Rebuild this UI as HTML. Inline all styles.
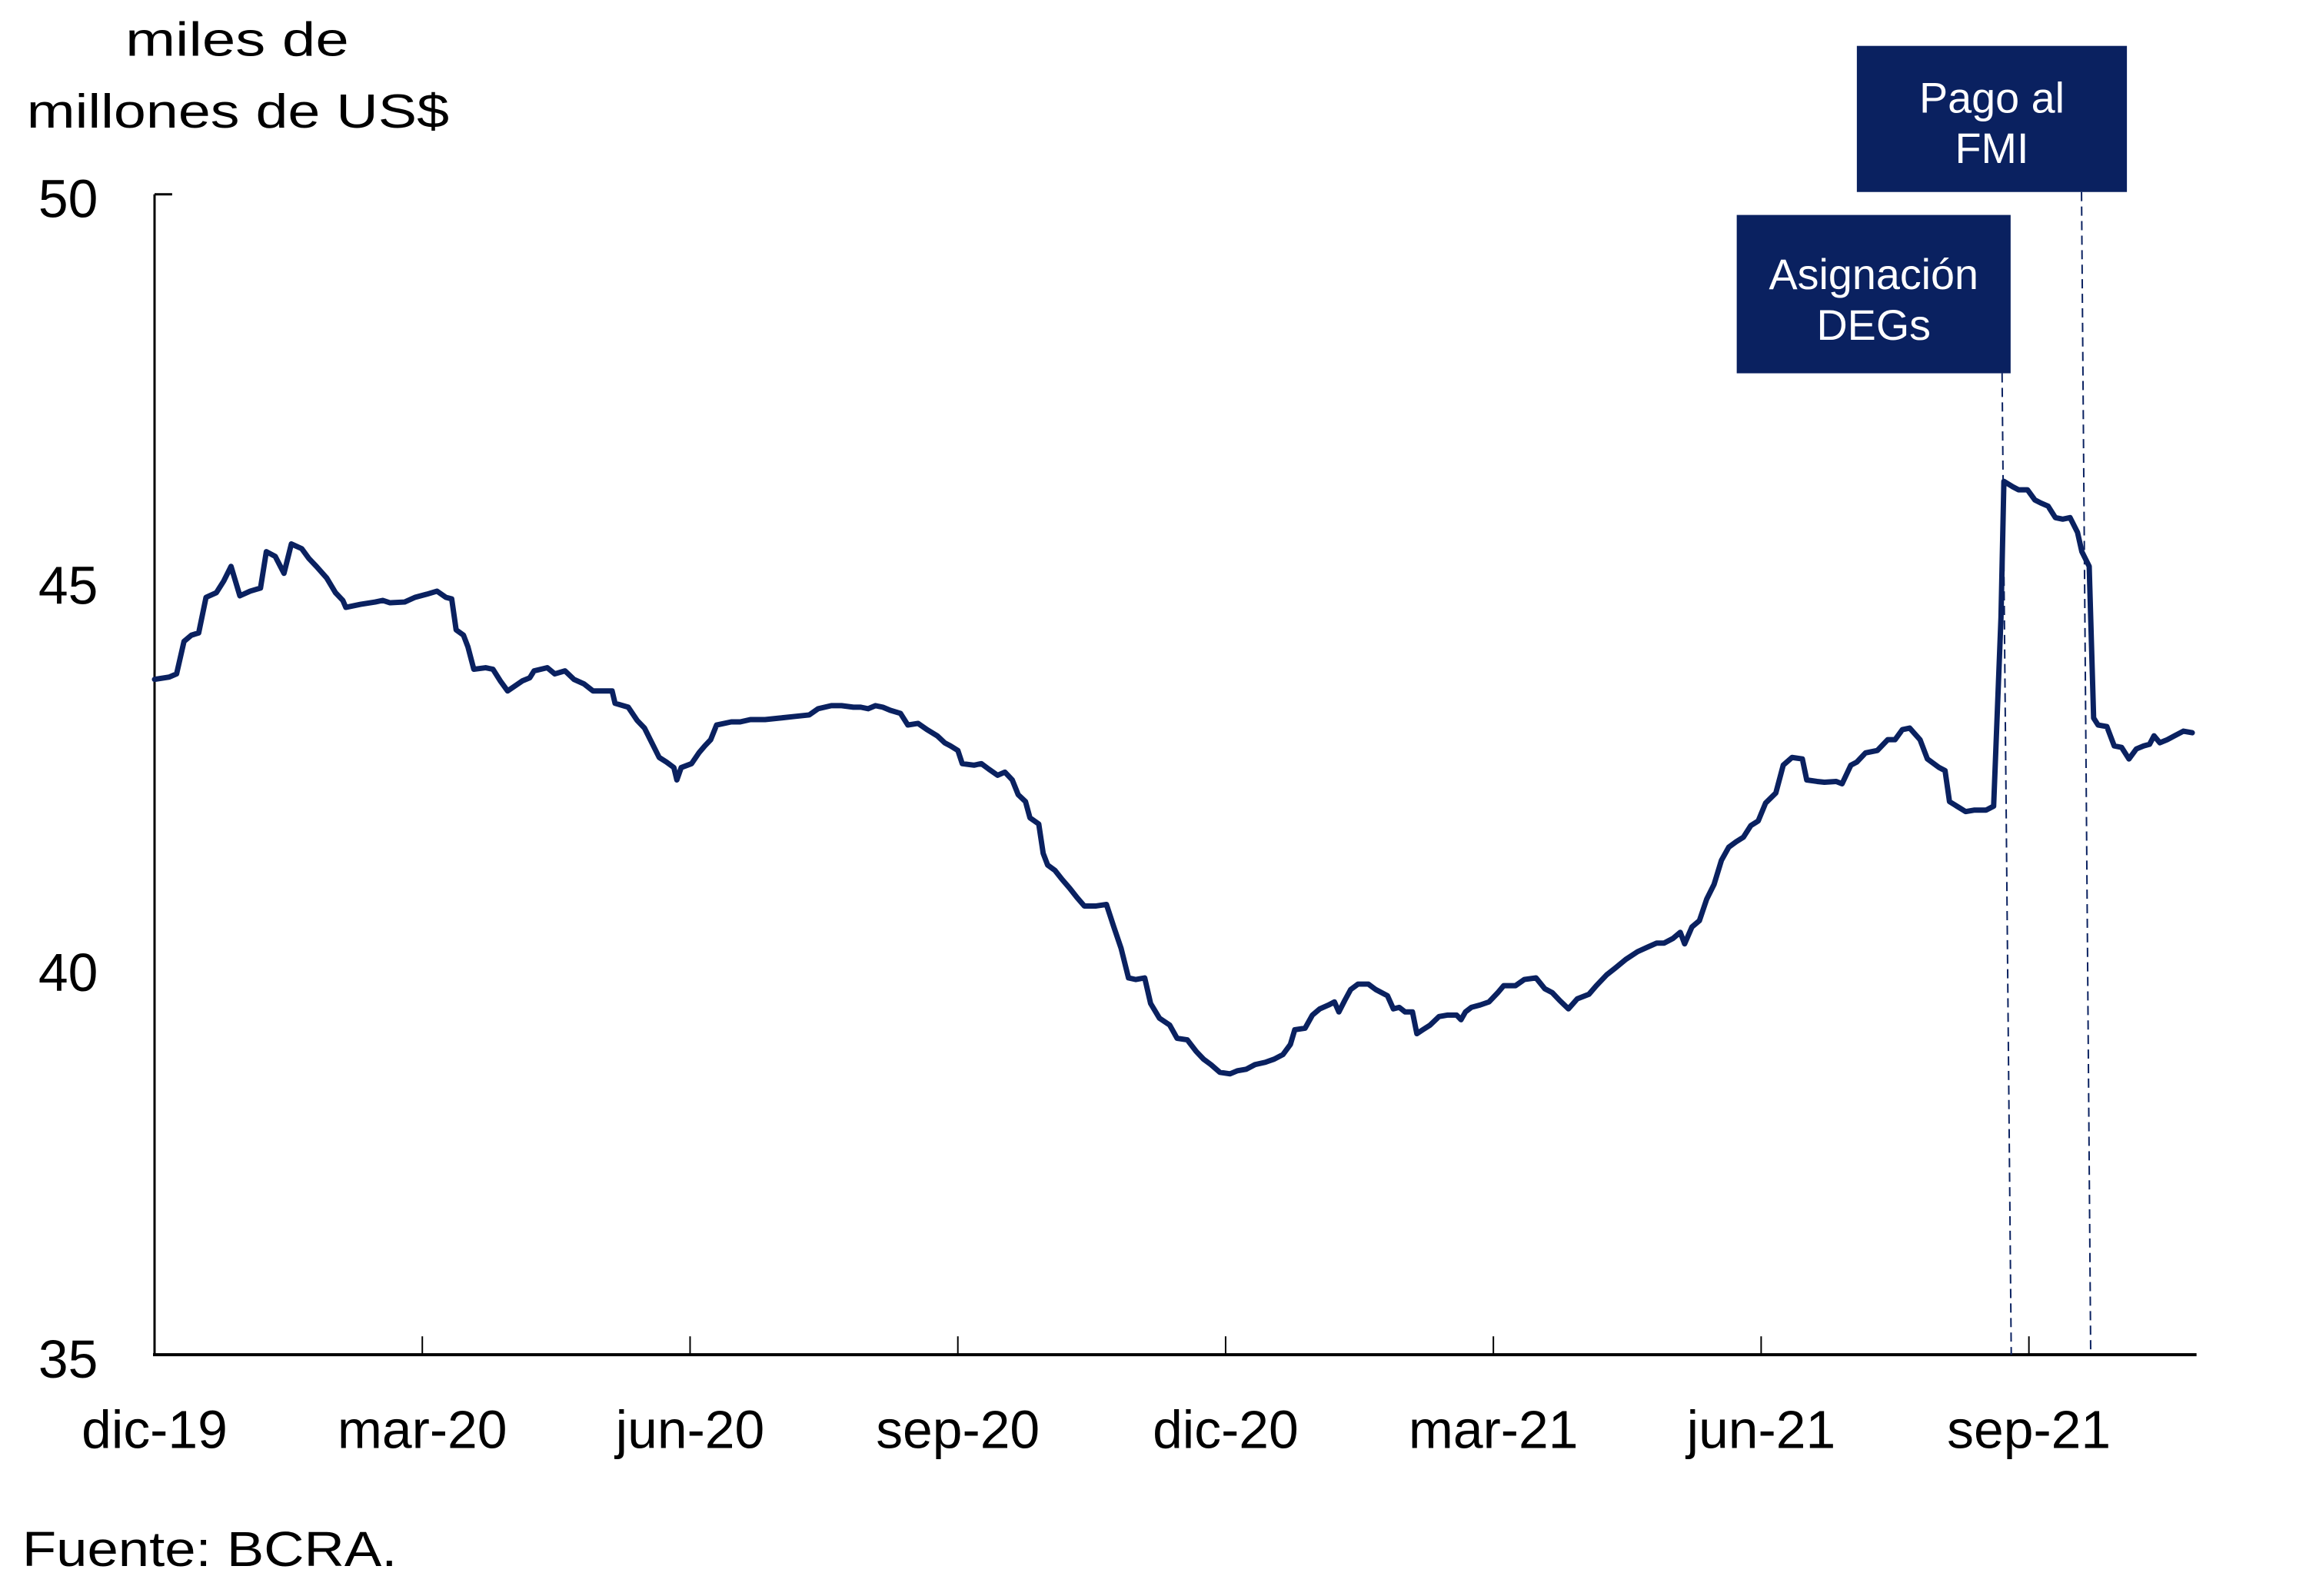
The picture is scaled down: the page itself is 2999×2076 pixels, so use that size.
<!DOCTYPE html>
<html><head><meta charset="utf-8"><style>
html,body{margin:0;padding:0;background:#fff;}
svg{display:block;font-family:"Liberation Sans",Arial,sans-serif;}
</style></head><body>
<svg id="chart" width="2999" height="2076" viewBox="0 0 2999 2076">
<g transform="scale(0.995)">
<g>
<text x="310" y="73" font-size="62" text-anchor="middle" textLength="292" lengthAdjust="spacingAndGlyphs">miles de</text>
<text x="35" y="167" font-size="62" textLength="552" lengthAdjust="spacingAndGlyphs">millones de US$</text>
</g>
<g id="axes"></g>
<g id="annot"></g>
<g id="series"></g>
<text x="29" y="2047" font-size="64" textLength="490" lengthAdjust="spacingAndGlyphs">Fuente: BCRA.</text>
</g>
</svg>
<script>
const days=[0,5,7.5,10,12.5,15,17.5,21,23.5,26,29,32.5,36,38,41,44,46.5,50,52.5,55,58.5,61.5,64,65,70,75,77.5,80,85,88.5,92.5,96,99,101,102.5,105,106.5,108.5,112.5,115,117.5,120,125,127.5,129,133.5,136,139.5,142.5,146,149,152.5,155.5,156.5,161,164,166.5,169,171.5,174,176.5,177.5,179,182.5,185,187,189,191,196,199,202.5,207.5,212.5,217.5,222.5,225.5,230,233.5,237.5,240,242.5,245,247.5,250,253.5,256,259.5,262.5,266,268.5,270.5,273,274.5,278.5,281,283.5,286.5,289,291.5,293.5,296,297.5,300.5,302,303.5,306,308.5,311,313.5,316,320,323.5,326,328.5,331,333.5,336.5,338.5,341.5,345,347.5,351,354,356.5,359,362,365.5,368,371,374,377.5,380.5,383.5,386,387.5,391,393.5,396,399,401,402.5,404.5,406.5,409,412.5,415,419,421,423,425,427.5,429,431,433.5,436.5,439.5,442.5,444,445.5,447.5,450.5,453.5,456.5,458.5,462.5,465.5,469.5,472.5,475,477.5,480.5,483.5,487.5,490,493.5,496.5,500,504,507.5,510.5,513,516,518.5,520,522.5,525,527.5,530,532.5,535,537.5,540,542.5,545,547.5,551,553.5,556.5,560,561.5,565,567.5,571.5,573.5,576.5,578.5,581.5,585.5,589,591.5,594,596.5,600,602.5,606.5,608.5,610,612.5,615.5,618.5,622.5,625,627.5,628.5,631.5,633.5,636.5,639,641,643.5,646,648.5,651,653.5,655,657.5,659,660.5,663.5,666,668.5,671,673.5,676,678,679.5,681.5,684,686.5,689.5,692.5];
const values=[43.73,43.76,43.80,44.22,44.30,44.33,44.79,44.85,45.00,45.19,44.81,44.87,44.91,45.38,45.32,45.10,45.48,45.42,45.29,45.19,45.04,44.85,44.75,44.66,44.70,44.73,44.75,44.72,44.73,44.79,44.83,44.87,44.79,44.77,44.37,44.30,44.15,43.86,43.88,43.86,43.71,43.58,43.71,43.75,43.84,43.88,43.80,43.84,43.73,43.67,43.58,43.58,43.58,43.42,43.37,43.20,43.10,42.91,42.72,42.66,42.59,42.43,42.59,42.64,42.78,42.87,42.95,43.14,43.18,43.18,43.21,43.21,43.23,43.25,43.27,43.35,43.39,43.39,43.37,43.37,43.35,43.39,43.37,43.33,43.29,43.14,43.16,43.08,43.00,42.91,42.87,42.81,42.64,42.62,42.64,42.57,42.49,42.53,42.43,42.24,42.15,41.94,41.86,41.48,41.33,41.26,41.14,41.03,40.91,40.80,40.80,40.82,40.53,40.25,39.87,39.85,39.87,39.54,39.35,39.26,39.09,39.07,38.92,38.82,38.75,38.65,38.63,38.67,38.69,38.75,38.78,38.82,38.88,39.01,39.20,39.22,39.39,39.47,39.52,39.56,39.43,39.58,39.72,39.79,39.79,39.72,39.64,39.47,39.49,39.43,39.43,39.15,39.20,39.26,39.37,39.39,39.39,39.33,39.43,39.49,39.52,39.56,39.68,39.77,39.77,39.85,39.87,39.73,39.68,39.58,39.47,39.60,39.66,39.77,39.91,40.00,40.11,40.21,40.27,40.32,40.32,40.38,40.46,40.31,40.53,40.61,40.89,41.08,41.39,41.56,41.63,41.69,41.84,41.90,42.13,42.26,42.62,42.72,42.70,42.43,42.41,42.40,42.41,42.38,42.62,42.66,42.78,42.81,42.95,42.95,43.08,43.10,42.95,42.70,42.59,42.55,42.15,42.09,42.02,42.04,42.04,42.09,44.53,46.29,46.22,46.18,46.18,46.05,46.01,45.97,45.82,45.80,45.82,45.63,45.38,45.19,43.23,43.14,43.12,42.87,42.85,42.70,42.83,42.87,42.89,43.00,42.91,42.95,43.00,43.06,43.04];
const xTickDays=[0,91,182,273,364,455,546,637];
const xTickLabels=["dic-19","mar-20","jun-20","sep-20","dic-20","mar-21","jun-21","sep-21"];
const yTicks=[50,45,40,35];
const eventDays=[631,658];
const eventLabels=[["Asignación","DEGs"],["Pago al","FMI"]];

const NS="http://www.w3.org/2000/svg";
const xs=d=>202+d*3.846;
const ys=v=>254+(50-v)*101.13;
function mk(tag,attrs,parent,text){const e=document.createElementNS(NS,tag);for(const k in attrs)e.setAttribute(k,attrs[k]);if(text!==undefined)e.textContent=text;parent.appendChild(e);return e;}
const axes=document.getElementById('axes');
const yAxis=mk('line',{x1:xs(0),y1:ys(50),x2:xs(0),y2:ys(35),stroke:'#000','stroke-width':3},axes);


const xAxis=mk('line',{x1:xs(0)-2,y1:ys(35),x2:2871,y2:ys(35),stroke:'#000','stroke-width':4},axes);


const t50=mk('line',{x1:xs(0),y1:ys(50),x2:xs(0)+23,y2:ys(50),stroke:'#000','stroke-width':3},axes);


yTicks.forEach(v=>{
  const t=mk('text',{x:128,y:ys(v)+30,'font-size':70,'text-anchor':'end'},axes,String(v));
  
  
});
xTickDays.forEach((d,i)=>{
  if(i>0){const l=mk('line',{x1:xs(d),y1:ys(35),x2:xs(d),y2:ys(35)-24,stroke:'#000','stroke-width':2},axes);
  
  }
  const t=mk('text',{x:xs(d),y:1893,'font-size':70,'text-anchor':'middle'},axes,xTickLabels[i]);
  
  
});
const annot=document.getElementById('annot');
const boxes=[{x:2270,y:281,w:358,h:207,b1:378,b2:444,top:488},{x:2427,y:60,w:353,h:191,b1:147,b2:213,top:251}];
eventDays.forEach((d,i)=>{
  const b=boxes[i];
  const ln=mk('line',{x1:xs(d)-12,y1:b.top,x2:xs(d),y2:ys(35),stroke:'#0a2160','stroke-width':2,'stroke-dasharray':'12,7'},annot);
  
  
  const r=mk('rect',{x:b.x,y:b.y,width:b.w,height:b.h,fill:'#0a2160'},annot);
  
  
  eventLabels[i].forEach((s,j)=>{
    const t=mk('text',{x:b.x+b.w/2,y:j?b.b2:b.b1,'font-size':56,fill:'#fff','text-anchor':'middle'},annot,s);
    
    
  });
});
const series=document.getElementById('series');
const p=mk('polyline',{points:days.map((d,i)=>xs(d).toFixed(1)+','+ys(values[i]).toFixed(1)).join(' '),fill:'none',stroke:'#0a2160','stroke-width':7,'stroke-linejoin':'round','stroke-linecap':'round'},series);


</script>
</body></html>
